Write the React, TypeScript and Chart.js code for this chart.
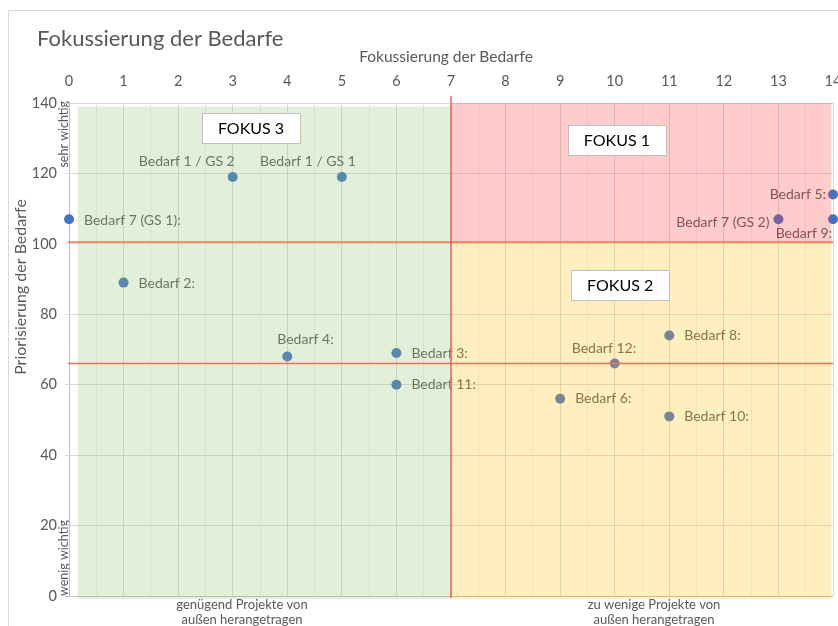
import React, { useEffect, useRef } from 'react';
import { Chart, registerables } from 'chart.js';

Chart.register(...registerables);

// ---------- data ----------
const pointNames = [
  'Bedarf 7 (GS 1):',
  'Bedarf 1 / GS 2',
  'Bedarf 1 / GS 1',
  'Bedarf 2:',
  'Bedarf 4:',
  'Bedarf 3:',
  'Bedarf 11:',
  'Bedarf 12:',
  'Bedarf 8:',
  'Bedarf 6:',
  'Bedarf 10:',
  'Bedarf 7 (GS 2)',
  'Bedarf 5:',
  'Bedarf 9:',
];
const xValues = [0, 3, 5, 1, 4, 6, 6, 10, 11, 9, 11, 13, 14, 14];
const yValues = [107, 119, 119, 89, 68, 69, 60, 66, 74, 56, 51, 107, 114, 107];

// label placement (text alignment and pixel offset from the point)
const labelAlign = ['left', 'right', 'right', 'left', 'left', 'left', 'left', 'left', 'left', 'left', 'left', 'right', 'right', 'right'];
const labelDx = [15, 2, 14, 15, -10, 15, 15, -43, 15, 15, 15, -9, -7, -1];
const labelDy = [1, -15, -15, 1, -17, 0, 0, -15, 0, 0, 0, 3, 0, 14];

const regionNames = ['FOKUS 3', 'FOKUS 1', 'FOKUS 2'];
const regionXStart = [0.16, 7, 7];
const regionXEnd = [7, 13.97, 13.97];
const regionYStart = [-0.8, 100.5, -0.8];
const regionYEnd = [139, 140, 100.5];
const regionColors = ['rgba(149,196,116,0.27)', 'rgba(255,67,67,0.27)', 'rgba(255,192,15,0.27)'];
const regionLabelX = [3.335, 10.04, 10.1];
const regionLabelY = [133, 129.5, 88.4];

const hLineValues = [100.5, 66];
const vLineValues = [7];

const xMin = 0;
const xMax = 14;
const xStep = 0.5;
const yMin = 0;
const yMax = 140;
const yStep = 20;

const chartTitle = 'Fokussierung der Bedarfe';
const xAxisTitle = 'Fokussierung der Bedarfe';
const yAxisTitle = 'Priorisierung der Bedarfe';
const yTopNote = 'sehr wichtig';
const yBottomNote = 'wenig wichtig';
const xLeftNote = ['genügend Projekte von', 'außen herangetragen'];
const xRightNote = ['zu wenige Projekte von', 'außen herangetragen'];

const FONT = 'Lato, "Open Sans", sans-serif';
const TEXT = '#595959';

const decorPlugin = {
  id: 'decor',
  beforeDraw(chart: any) {
    const { ctx, width, height } = chart;
    ctx.save();
    ctx.fillStyle = '#ffffff';
    ctx.fillRect(0, 0, width, height);
    ctx.strokeStyle = '#D9D9D9';
    ctx.lineWidth = 1;
    ctx.beginPath();
    ctx.moveTo(8.5, height);
    ctx.lineTo(8.5, 10.5);
    ctx.lineTo(width, 10.5);
    ctx.stroke();

    ctx.fillStyle = TEXT;
    ctx.textBaseline = 'middle';
    ctx.textAlign = 'left';
    ctx.font = `22px ${FONT}`;
    ctx.fillText(chartTitle, 37, 39);

    ctx.textAlign = 'center';
    ctx.font = `15.5px ${FONT}`;
    ctx.fillText(xAxisTitle, 446, 57);

    // rotated y title
    ctx.save();
    ctx.translate(21, 287);
    ctx.rotate(-Math.PI / 2);
    ctx.font = `16px ${FONT}`;
    ctx.textAlign = 'center';
    ctx.fillText(yAxisTitle, 0, 0);
    ctx.restore();

    const area = chart.chartArea;
    ctx.font = `12.5px ${FONT}`;
    ctx.save();
    ctx.translate(64, area.top - 2);
    ctx.rotate(-Math.PI / 2);
    ctx.textAlign = 'right';
    ctx.fillText(yTopNote, 0, 0);
    ctx.restore();
    ctx.save();
    ctx.translate(64, area.bottom);
    ctx.rotate(-Math.PI / 2);
    ctx.textAlign = 'left';
    ctx.fillText(yBottomNote, 0, 0);
    ctx.restore();

    ctx.font = `13px ${FONT}`;
    ctx.textAlign = 'center';
    xLeftNote.forEach((t, i) => ctx.fillText(t, 242, 605 + i * 15));
    xRightNote.forEach((t, i) => ctx.fillText(t, 654, 605 + i * 15));
    ctx.restore();
  },
  afterDatasetsDraw(chart: any) {
    const { ctx } = chart;
    const xs = chart.scales.x;
    const ys = chart.scales.y;
    const area = chart.chartArea;
    ctx.save();
    // point labels
    ctx.font = `14px ${FONT}`;
    ctx.fillStyle = TEXT;
    ctx.textBaseline = 'middle';
    pointNames.forEach((name, i) => {
      const px = xs.getPixelForValue(xValues[i]);
      const py = ys.getPixelForValue(yValues[i]);
      ctx.textAlign = labelAlign[i];
      ctx.fillText(name, px + labelDx[i], py + labelDy[i]);
    });
    // translucent regions on top
    regionNames.forEach((_, i) => {
      const x0 = xs.getPixelForValue(regionXStart[i]);
      const x1 = xs.getPixelForValue(regionXEnd[i]);
      const y0 = ys.getPixelForValue(regionYStart[i]);
      const y1 = ys.getPixelForValue(regionYEnd[i]);
      ctx.fillStyle = regionColors[i];
      ctx.fillRect(x0, y1, x1 - x0, y0 - y1);
    });
    // reference lines
    ctx.lineWidth = 1.5;
    ctx.strokeStyle = '#F2704F';
    hLineValues.forEach((v) => {
      const y = ys.getPixelForValue(v);
      ctx.beginPath();
      ctx.moveTo(area.left - 1, y);
      ctx.lineTo(area.right, y);
      ctx.stroke();
    });
    ctx.strokeStyle = '#FF5A5A';
    vLineValues.forEach((v) => {
      const x = xs.getPixelForValue(v);
      ctx.beginPath();
      ctx.moveTo(x, area.top - 7);
      ctx.lineTo(x, area.bottom + 2);
      ctx.stroke();
    });
    // region label boxes
    ctx.font = `16px ${FONT}`;
    ctx.textAlign = 'center';
    regionNames.forEach((name, i) => {
      const cx = xs.getPixelForValue(regionLabelX[i]);
      const cy = ys.getPixelForValue(regionLabelY[i]);
      const w = ctx.measureText(name).width + 32;
      const h = 30;
      ctx.fillStyle = '#ffffff';
      ctx.fillRect(Math.round(cx - w / 2), Math.round(cy - h / 2), Math.round(w), h);
      ctx.strokeStyle = '#BFBFBF';
      ctx.lineWidth = 1;
      ctx.strokeRect(Math.round(cx - w / 2) + 0.5, Math.round(cy - h / 2) + 0.5, Math.round(w), h);
      ctx.fillStyle = '#000000';
      ctx.fillText(name, cx, cy + 1);
    });
    ctx.restore();
  },
};

export default function App() {
  const ref = useRef<HTMLCanvasElement | null>(null);
  useEffect(() => {
    if (!ref.current) return;
    const chart = new Chart(ref.current, {
      type: 'scatter',
      data: {
        datasets: [
          {
            data: xValues.map((x, i) => ({ x, y: yValues[i] })),
            backgroundColor: '#4472C4',
            borderWidth: 0,
            pointRadius: 5,
            clip: false,
          },
        ],
      },
      options: {
        responsive: false,
        animation: false,
        devicePixelRatio: 1,
        layout: { padding: { left: 0, top: 0, right: 5, bottom: 30 } },
        plugins: { legend: { display: false }, tooltip: { enabled: false }, title: { display: false } },
        scales: {
          x: {
            type: 'linear',
            position: 'top',
            min: xMin,
            max: xMax,
            afterFit: (s: any) => {
              s.height = 103;
              s.paddingLeft = 0;
              s.paddingRight = 0;
            },
            ticks: {
              stepSize: xStep,
              autoSkip: false,
              maxRotation: 0,
              padding: 13,
              color: TEXT,
              font: { family: FONT, size: 14.5 },
              callback: (v: any) => (Number.isInteger(v) ? String(v) : ''),
            },
            grid: {
              drawTicks: false,
              color: (c: any) => (Number.isInteger(c.tick?.value) ? '#D9D9D9' : '#EDEDED'),
            },
            border: { color: '#D9D9D9' },
          },
          y: {
            type: 'linear',
            min: yMin,
            max: yMax,
            afterFit: (s: any) => {
              s.width = 69;
            },
            ticks: {
              stepSize: yStep,
              padding: 8,
              color: TEXT,
              font: { family: FONT, size: 14.5 },
            },
            grid: {
              tickLength: 4,
              color: (c: any) => (c.tick?.value === 0 ? '#BFBFBF' : '#D9D9D9'),
            },
            border: { color: '#BFBFBF' },
          },
        },
      },
      plugins: [decorPlugin],
    } as any);
    return () => chart.destroy();
  }, []);
  return (
    <div style={{ position: 'absolute', left: 0, top: 0, width: 838, height: 626, background: '#fff' }}>
      <canvas ref={ref} width={838} height={626} style={{ display: 'block' }} />
    </div>
  );
}
